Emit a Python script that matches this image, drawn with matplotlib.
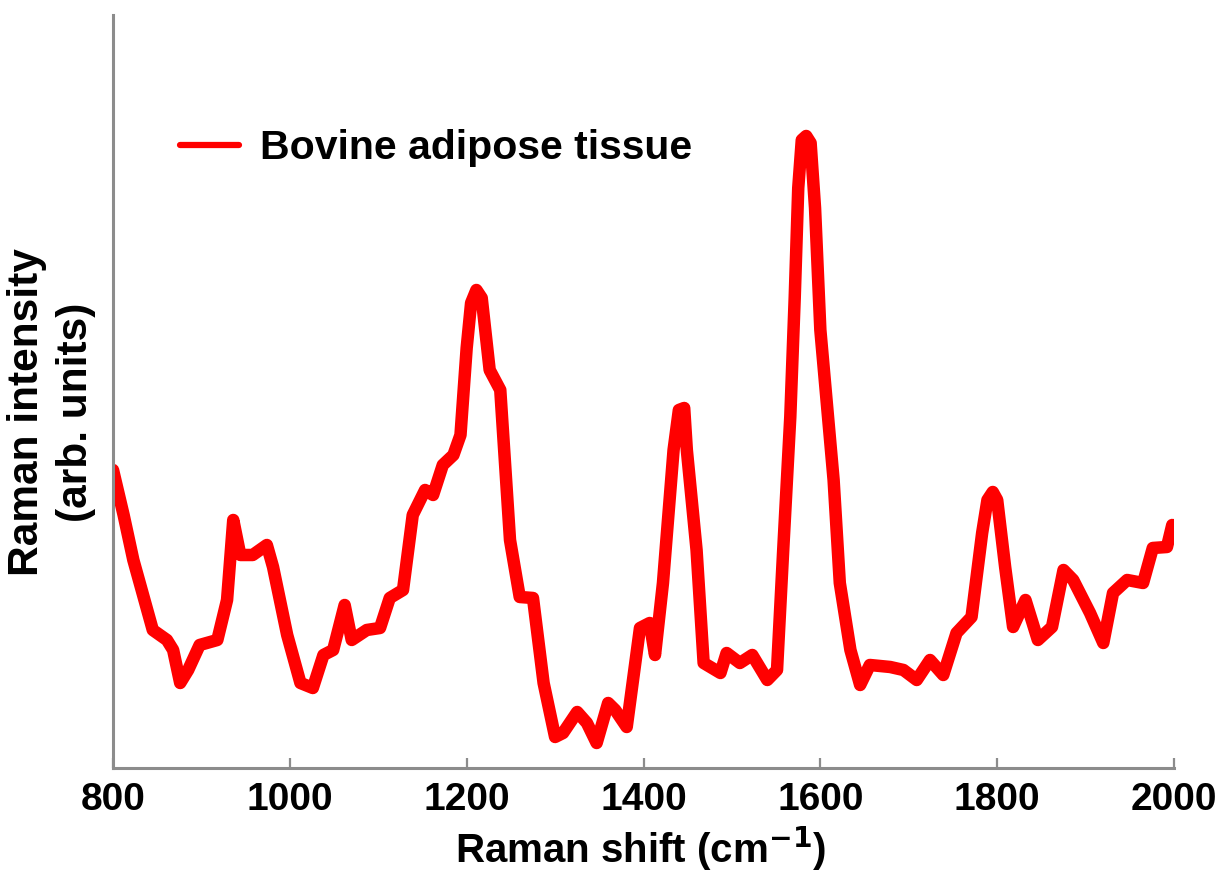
import matplotlib
matplotlib.use("Agg")
import matplotlib.pyplot as plt

# Raman spectrum (shift in cm^-1, intensity in arb. units)
shift = [800, 812, 823, 834, 845, 861, 868, 876, 885, 898, 918, 929, 936, 944,
         958, 974, 981, 997, 1012, 1026, 1038, 1049, 1062, 1070, 1087, 1102,
         1113, 1128, 1139, 1153, 1162, 1173, 1185, 1193, 1200, 1205, 1211,
         1217, 1226, 1238, 1249, 1260, 1275, 1287, 1300, 1309, 1325, 1336,
         1347, 1360, 1368, 1381, 1396, 1407, 1413, 1422, 1434, 1440, 1446,
         1449, 1460, 1468, 1487, 1494, 1509, 1523, 1540, 1551, 1558, 1566,
         1571, 1575, 1579, 1584, 1589, 1594, 1600, 1615, 1622, 1634, 1645,
         1656, 1679, 1694, 1709, 1724, 1739, 1754, 1771, 1783, 1789, 1795,
         1800, 1809, 1818, 1832, 1846, 1862, 1875, 1886, 1905, 1920, 1931,
         1947, 1965, 1976, 1992, 1998]
intensity = [298, 253, 208, 173, 138, 128, 118, 85, 98, 123, 128, 168, 248,
             213, 213, 223, 201, 133, 85, 80, 113, 118, 163, 128, 138, 140,
             170, 178, 253, 278, 273, 303, 313, 333, 420, 465, 478, 470, 398,
             378, 228, 171, 170, 85, 31, 35, 56, 45, 25, 65, 58, 41, 140, 145,
             113, 185, 318, 358, 360, 318, 218, 105, 95, 115, 105, 113, 88,
             98, 218, 351, 470, 580, 628, 632, 625, 560, 438, 288, 185, 118,
             83, 103, 101, 98, 88, 108, 93, 135, 151, 235, 268, 276, 268,
             201, 141, 168, 128, 141, 198, 188, 155, 125, 175, 188, 185, 220,
             221, 243]

xticks = [800, 1000, 1200, 1400, 1600, 1800, 2000]
label = "Bovine adipose tissue"

plt.rcParams['font.family'] = ['Liberation Sans', 'DejaVu Sans']
plt.rcParams['font.weight'] = 'bold'
plt.rcParams['mathtext.default'] = 'bf'

fig = plt.figure(figsize=(12.19, 8.76), dpi=100)
ax = fig.add_axes([0.0927, 0.1233, 0.8704, 0.8596])

ax.plot(shift, intensity, color='#ff0000', linewidth=9, label=label,
        solid_joinstyle='round', solid_capstyle='round')

ax.set_xlim(800, 2000)
ax.set_ylim(0, 753)
ax.set_xticks(xticks)
ax.set_yticks([])

for side in ['top', 'right']:
    ax.spines[side].set_visible(False)
for side in ['left', 'bottom']:
    ax.spines[side].set_color('#8c8c8c')
    ax.spines[side].set_linewidth(2.2)

ax.tick_params(axis='x', direction='in', length=7, width=1.6,
               color='#8c8c8c', labelsize=28, pad=10)
for t in ax.get_xticklabels():
    t.set_fontweight('bold')

ax.set_xlabel("Raman shift (cm$^{-1}$)", fontsize=29, fontweight='bold')
ax.xaxis.set_label_coords(0.497, -0.075)
ax.set_ylabel("Raman intensity\n(arb. units)", fontsize=30.5,
              fontweight='bold', linespacing=1.3)
ax.yaxis.set_label_coords(-0.016, 0.473)

leg = ax.legend(loc='center left', bbox_to_anchor=(0.063, 0.823),
                frameon=False, fontsize=29.5, handlelength=1.45,
                handletextpad=0.5, borderpad=0, borderaxespad=0)
for line in leg.get_lines():
    line.set_linewidth(4.5)

fig.savefig("out.png", dpi=100)
